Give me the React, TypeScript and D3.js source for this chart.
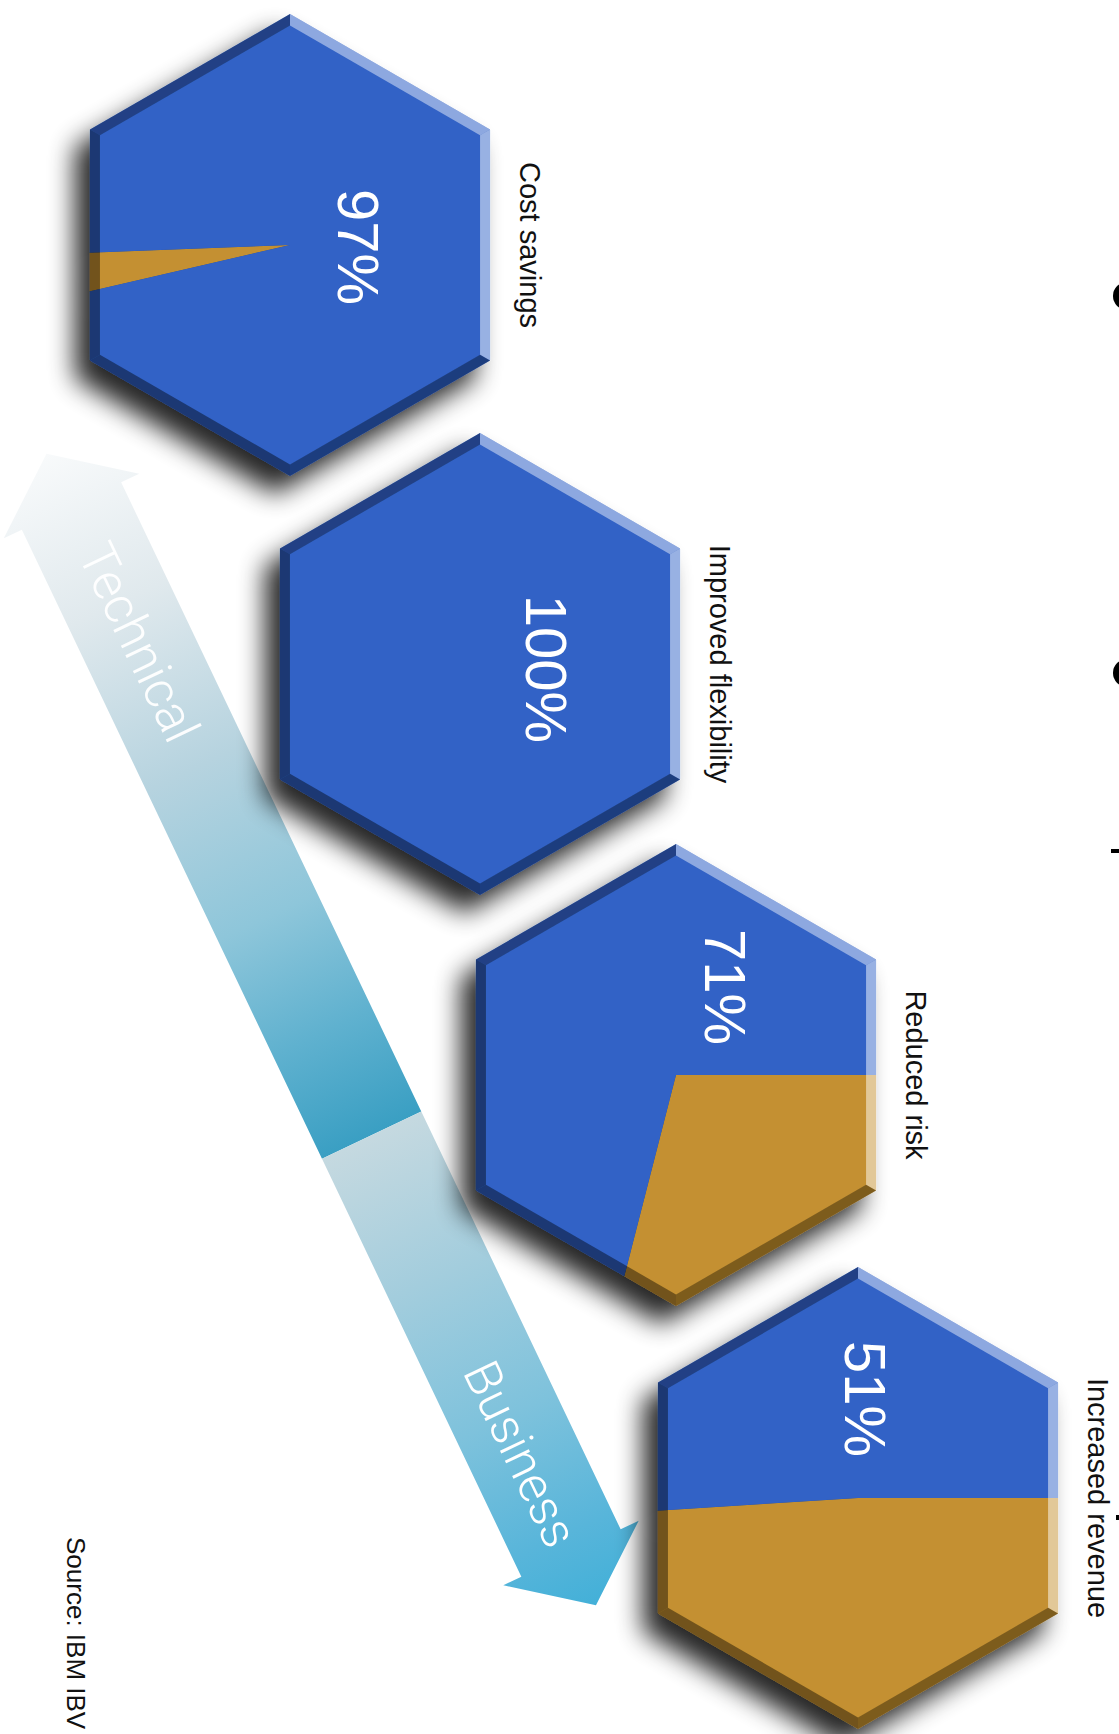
import React from "react";
import * as d3 from "d3";

// ---------- data ----------
const categories = ["Cost savings", "Improved flexibility", "Reduced risk", "Increased revenue"];
const values = [97, 100, 71, 51];
const valueLabels = ["97%", "100%", "71%", "51%"];
const arrowLabels = ["Technical", "Business"];
const sourceText = "Source: IBM IBV";

// ---------- layout ----------
const W = 1119;
const H = 1734;
const R = 231;
const BEVEL = 10;
const BLUE = "#3162c6";
const ORANGE = "#c49031";

const xPos = d3.scaleLinear().domain([0, 1, 2, 3]).range([290, 480, 676, 858]);
const yPos = d3.scaleLinear().domain([0, 1, 2, 3]).range([245, 664, 1075, 1498]);
const pieStartDeg = [257, 90, 90, 90];
const pctOffset: [number, number][] = [[68, 2], [66, 5], [49, -88], [7, -99]];

// arrow axis
const P0: [number, number] = [71.5, 506];
const dir: [number, number] = [0.4306, 0.9026];
const nrm: [number, number] = [0.9026, -0.4306];
const P = (t: number, s: number): [number, number] => [
  P0[0] + t * dir[0] + s * nrm[0],
  P0[1] + t * dir[1] + s * nrm[1],
];
const HALF = 55;
const BARB = 75;
const T_TOP_TIP = -58;
const T_JOIN = 697;
const T_BOT_BASE = 1160;
const T_BOT_TIP = 1218;
const ARROW_ANGLE = (Math.atan2(dir[1], dir[0]) * 180) / Math.PI;

const hexAngles = [-90, -30, 30, 90, 150, 210].map((a) => (a * Math.PI) / 180);
const outerPts = hexAngles.map((a) => [R * Math.cos(a), R * Math.sin(a)] as [number, number]);
const rIn = R - BEVEL / Math.cos(Math.PI / 6);
const innerPts = hexAngles.map((a) => [rIn * Math.cos(a), rIn * Math.sin(a)] as [number, number]);
const facetStyle = [
  { fill: "#ffffff", op: 0.45 },
  { fill: "#ffffff", op: 0.5 },
  { fill: "#000000", op: 0.36 },
  { fill: "#000000", op: 0.42 },
  { fill: "#000000", op: 0.42 },
  { fill: "#000000", op: 0.33 },
];
const line = d3.line();

export default function App() {
  const arcGen = d3.arc<d3.PieArcDatum<number>>().innerRadius(0).outerRadius(R * 1.6);
  const hexPath = line(outerPts)! + "Z";

  const upper = [
    P(T_TOP_TIP, 0),
    P(0, BARB),
    P(0, HALF),
    P(T_JOIN, HALF),
    P(T_JOIN, -HALF),
    P(0, -HALF),
    P(0, -BARB),
  ];
  const lower = [
    P(T_JOIN, HALF),
    P(T_BOT_BASE, HALF),
    P(T_BOT_BASE, BARB),
    P(T_BOT_TIP, 0),
    P(T_BOT_BASE, -BARB),
    P(T_BOT_BASE, -HALF),
    P(T_JOIN, -HALF),
  ];
  const gu1 = P(T_TOP_TIP, 0), gu2 = P(T_JOIN, 0);
  const gl1 = P(T_JOIN, 0), gl2 = P(T_BOT_TIP, 0);
  const techPos = P(152, 2);
  const busPos = P(1049, -3);

  return (
    <div style={{ position: "absolute", left: 0, top: 0, width: W, height: H }}>
      <svg width={W} height={H} viewBox={`0 0 ${W} ${H}`} style={{ display: "block", background: "#fff" }}>
        <defs>
          <filter id="hexShadow" x="-40%" y="-40%" width="180%" height="180%">
            <feGaussianBlur in="SourceAlpha" stdDeviation={13} result="blur" />
            <feOffset in="blur" dx={-15} dy={18} result="off" />
            <feComponentTransfer in="off" result="shadow">
              <feFuncA type="linear" slope={0.85} />
            </feComponentTransfer>
            <feMerge>
              <feMergeNode in="shadow" />
              <feMergeNode in="SourceGraphic" />
            </feMerge>
          </filter>
          <clipPath id="hexClip">
            <path d={hexPath} />
          </clipPath>
          <linearGradient id="gradUp" gradientUnits="userSpaceOnUse" x1={gu1[0]} y1={gu1[1]} x2={gu2[0]} y2={gu2[1]}>
            <stop offset="0" stopColor="#f8fafb" />
            <stop offset="0.22" stopColor="#e0e9ed" />
            <stop offset="0.46" stopColor="#b6d3df" />
            <stop offset="0.68" stopColor="#8ec6da" />
            <stop offset="0.85" stopColor="#5fb1cf" />
            <stop offset="1" stopColor="#3a9fc3" />
          </linearGradient>
          <linearGradient id="gradDown" gradientUnits="userSpaceOnUse" x1={gl1[0]} y1={gl1[1]} x2={gl2[0]} y2={gl2[1]}>
            <stop offset="0" stopColor="#c5d9e0" />
            <stop offset="0.3" stopColor="#a3cddd" />
            <stop offset="0.6" stopColor="#7ec2dc" />
            <stop offset="0.85" stopColor="#58b5da" />
            <stop offset="1" stopColor="#43b0d8" />
          </linearGradient>
        </defs>

        {/* arrow */}
        <polygon points={upper.map((p) => p.join(",")).join(" ")} fill="url(#gradUp)" />
        <polygon points={lower.map((p) => p.join(",")).join(" ")} fill="url(#gradDown)" />
        <text
          transform={`translate(${techPos[0]},${techPos[1]}) rotate(${ARROW_ANGLE})`}
          textAnchor="middle"
          dominantBaseline="central"
          fontFamily="Roboto, 'Open Sans', sans-serif"
          fontWeight={300}
          fontSize={51}
          fill="#ffffff"
          fillOpacity={0.95}
        >
          {arrowLabels[0]}
        </text>
        <text
          transform={`translate(${busPos[0]},${busPos[1]}) rotate(${ARROW_ANGLE})`}
          textAnchor="middle"
          dominantBaseline="central"
          fontFamily="Roboto, 'Open Sans', sans-serif"
          fontWeight={300}
          fontSize={50}
          fill="#ffffff"
        >
          {arrowLabels[1]}
        </text>

        {/* hexagons */}
        {values.map((v, i) => {
          const cx = xPos(i);
          const cy = yPos(i);
          const start = (pieStartDeg[i] * Math.PI) / 180;
          const arcs = d3
            .pie<number>()
            .sort(null)
            .startAngle(start)
            .endAngle(start + 2 * Math.PI)([100 - v, v]);
          const colors = [ORANGE, BLUE];
          return (
            <g key={categories[i]} transform={`translate(${cx},${cy})`}>
              <g filter="url(#hexShadow)">
                <g clipPath="url(#hexClip)">
                  {arcs.map((a, j) =>
                    a.value > 0 ? <path key={j} d={arcGen(a)!} fill={colors[j]} /> : null
                  )}
                </g>
                {facetStyle.map((f, k) => {
                  const k2 = (k + 1) % 6;
                  const pts = [outerPts[k], outerPts[k2], innerPts[k2], innerPts[k]];
                  return (
                    <path key={k} d={line(pts)! + "Z"} fill={f.fill} fillOpacity={f.op} />
                  );
                })}
              </g>
              <text
                transform={`translate(${pctOffset[i][0]},${pctOffset[i][1]}) rotate(90)`}
                textAnchor="middle"
                dominantBaseline="central"
                fontFamily="'Liberation Sans', Arial, sans-serif"
                fontSize={58}
                fill="#ffffff"
              >
                {valueLabels[i]}
              </text>
              <text
                transform={`translate(${R * Math.cos(Math.PI / 6) + 30},0) rotate(90)`}
                textAnchor="middle"
                fontFamily="'Liberation Sans', Arial, sans-serif"
                fontSize={29}
                fill="#111111"
              >
                {categories[i]}
              </text>
            </g>
          );
        })}

        {/* source */}
        <text
          transform="translate(67,1537) rotate(90)"
          fontFamily="'Liberation Sans', Arial, sans-serif"
          fontSize={26}
          fill="#111111"
        >
          {sourceText}
        </text>

        {/* fragments of neighbouring text cut at the right edge */}
        <ellipse cx={1127} cy={296} rx={14} ry={14} fill="#000" />
        <ellipse cx={1127} cy={673} rx={14} ry={14} fill="#000" />
        <rect x={1111} y={849} width={8} height={4} fill="#000" />
        <rect x={1116} y={1515} width={4} height={5} fill="#000" />
      </svg>
    </div>
  );
}
